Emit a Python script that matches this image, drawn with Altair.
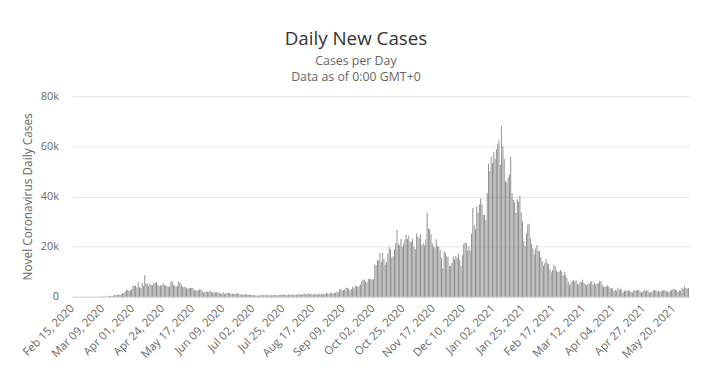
import altair as alt
import pandas as pd

# Daily new cases, Feb 15 2020 .. May 31 2021
feb20 = [0,0,0,0,0,0,0,0,4,0,0,0,2,5,3]
mar20 = [12,4,11,34,30,48,43,67,48,52,83,134,117,433,251,152,407,676,643,714,1035,665,967,1427,1452,2129,2885,2546,2433,2619,3009]
apr20 = [4324,4244,4450,3735,5903,3802,3634,5491,4344,8681,5233,5288,4342,5252,4605,4617,5599,5525,5850,4676,4301,4451,4583,5386,4913,4463,4309,3996,4076,6032]
may20 = [6201,4806,4339,3985,4406,6111,5614,4649,3896,3923,3877,3403,3242,3446,3560,3450,3534,2684,2412,2472,2615,2959,2959,2409,1625,2004,2013,2095,1887,2445,1936]
jun20 = [1570,1653,1871,1805,1650,1557,1326,1205,1741,1003,1266,1541,1425,1514,1056,1279,1115,1218,1346,1295,1221,958,874,653,1118,1006,890,815,901,689]
jul20 = [829,576,624,516,516,352,581,630,612,642,820,650,530,650,538,642,687,827,726,445,735,560,769,880,767,745,685,581,763,846,880]
aug20 = [771,743,744,670,892,950,871,758,1062,1148,1001,1009,1441,1012,1077,1040,713,1089,1182,812,1033,1288,1041,853,1184,1048,1522,1276,1108,1715,1406]
sep20 = [1295,1508,1735,1940,1813,2988,2948,2460,2659,2919,3539,3497,3330,2621,3105,3991,3395,4322,4422,3899,4368,4926,6178,6634,6874,6042,5693,7143,7108,7108]
oct20 = [6914,6968,12872,12594,14542,14542,17540,13864,17540,15166,12872,13972,17234,19724,18980,15650,16171,18804,21331,26688,21242,20530,23012,19790,20890,22885,24701,23065,24405,21915,21915]
nov20 = [23254,20018,18950,25177,24141,23287,24957,20572,21350,20412,22950,33470,27301,26860,24962,21363,20051,19609,22915,20252,19875,18662,15450,11299,18213,17555,16022,15871,12155,12330]
dec20 = [13430,16170,14879,16298,15539,17272,14718,12282,16578,20964,21672,21502,18447,20263,18450,25161,35383,28507,27052,35928,33364,36804,39237,36804,32725,32725,30501,41385,53135,50023,55892]
jan21 = [53285,57725,54990,58784,60916,62322,52618,68053,59937,54940,46169,45533,47525,48682,55761,41346,38598,37535,33355,38905,37892,40261,33552,30004,22195,20089,25308,28680,29079,23275,21088]
feb21 = [19202,16840,19114,20634,18262,18262,15845,14104,12364,13308,15144,13494,13013,10972,9765,10625,12718,12057,10406,9834,9938,10641,9985,8489,9985,8523,7434,6035]
mar21 = [4712,5455,6385,6573,6040,6609,5177,4712,5766,5926,6753,5534,5089,4618,5089,5294,5758,6303,4802,5587,4912,5342,5379,6397,6187,4715,3862,4052,4040,4479,4052]
apr21 = [3402,3423,3402,2297,2762,2379,3567,2763,3150,2589,1730,2472,2296,2491,2412,2596,1882,1712,2524,2729,2396,2738,2678,1946,1712,2064,2685,2166,2642,2381]
may21 = [1649,1671,1979,2613,2490,2613,2047,2429,1770,2357,2284,2657,2657,2193,2027,1926,2412,2696,2874,3180,2829,2694,1979,2439,2493,3542,3180,4182,3398,3240,3383]

cases = (feb20 + mar20 + apr20 + may20 + jun20 + jul20 + aug20 + sep20 + oct20
         + nov20 + dec20 + jan21 + feb21 + mar21 + apr21 + may21)
dates = pd.date_range("2020-02-15", periods=len(cases), freq="D")
labels = [d.strftime("%b %d, %Y") for d in dates]
tick_labels = labels[::23]
y_ticks = [0, 20000, 40000, 60000, 80000]

df = pd.DataFrame({"date": labels, "cases": cases})

chart = alt.Chart(df).mark_bar(color="#8a8a8a").encode(
    x=alt.X("date:N", sort=None,
            scale=alt.Scale(paddingInner=0.3, paddingOuter=0.1),
            axis=alt.Axis(values=tick_labels, labelAngle=-45, title=None,
                          labelAlign="right", labelBaseline="middle",
                          labelFont="Open Sans", labelFontSize=11.5, labelColor="#666666",
                          labelPadding=10, ticks=False, domainColor="#ccd6eb",
                          labelOverlap=False, grid=False)),
    y=alt.Y("cases:Q",
            scale=alt.Scale(domain=[0, 80000], nice=False),
            axis=alt.Axis(values=y_ticks, title="Novel Coronavirus Daily Cases",
                          labelExpr="datum.value == 0 ? '0' : (datum.value/1000) + 'k'",
                          labelFont="Open Sans", labelFontSize=11, labelColor="#666666",
                          labelPadding=14, ticks=False, domain=False,
                          gridColor="#e6e6e6", titleFont="Open Sans",
                          titleFontSize=12, titleFontWeight="normal",
                          titleColor="#666666", titlePadding=6)),
).properties(
    width=624,
    height=203,
    title=alt.TitleParams(
        text="Daily New Cases",
        subtitle=["Cases per Day", "Data as of 0:00 GMT+0"],
        font="Open Sans", fontSize=19, fontWeight="normal", color="#333333",
        subtitleFont="Open Sans", subtitleFontSize=12.5, subtitleColor="#666666",
        subtitleLineHeight=16, subtitlePadding=6, offset=7, dx=-25, anchor="middle",
    ),
    autosize=alt.AutoSizeParams(type="none"),
    padding={"left": 65, "top": 87, "right": 10, "bottom": 70},
).configure_view(stroke=None)

chart.save("out.html", embed_options={"renderer": "svg", "actions": False})
